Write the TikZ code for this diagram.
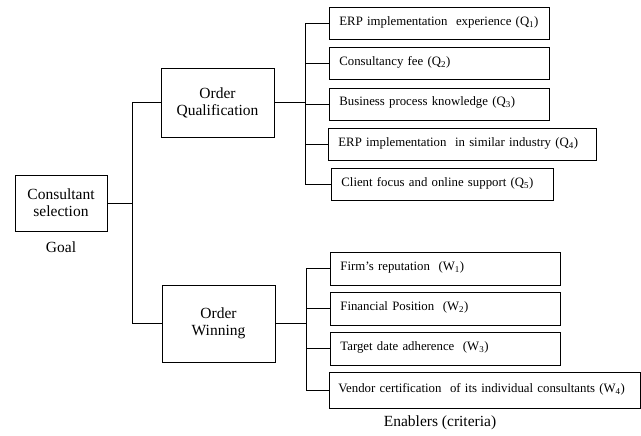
\documentclass[tikz,border=0pt]{standalone}
\usepackage{fontspec}
\setmainfont{Liberation Serif}
\usetikzlibrary{positioning}

\begin{document}
\begin{tikzpicture}[
  x=1bp, y=-1bp,
  line width=0.8bp,
  mainbox/.style={rectangle, draw, align=center, inner sep=0pt, font=\fontsize{15.5bp}{17bp}\selectfont},
  critbox/.style={rectangle, draw, anchor=north west, align=left, inner xsep=10bp, inner ysep=0pt, minimum height=32bp, text depth=5bp, font=\fontsize{12.8bp}{15bp}\selectfont},
  label/.style={inner sep=0pt, font=\fontsize{15.5bp}{17bp}\selectfont}
]
\useasboundingbox (0,0) rectangle (641,436);

% goal and the two order groups
\node[mainbox, minimum width=92bp, minimum height=56bp] (goal) at (61,203) {Consultant\\selection};
\node[label, below=10bp of goal] (goallbl) {Goal};
\node[mainbox, minimum width=113bp, minimum height=69bp] (oq) at (217.5,102.5) {Order\\Qualification};
\node[mainbox, minimum width=113bp, minimum height=77bp] (ow) at (218.5,323.5) {Order\\Winning};

% enablers, order qualification
\node[critbox, text width=200bp] (q1) at (329,7) {ERP implementation\ \ experience (Q\textsubscript{1})};
\node[critbox, text width=200bp, below=7.5bp of q1.south west, anchor=north west] (q2) {Consultancy fee (Q\textsubscript{2})};
\node[critbox, text width=200bp, below=7.5bp of q2.south west, anchor=north west] (q3) {Business process knowledge (Q\textsubscript{3})};
\node[critbox, text width=248bp, below=7.5bp of q3.south west, anchor=north west, xshift=-1bp] (q4) {ERP implementation\ \ in similar industry (Q\textsubscript{4})};
\node[critbox, text width=202bp, below=7.5bp of q4.south west, anchor=north west, xshift=3bp] (q5) {Client focus and online support (Q\textsubscript{5})};

% enablers, order winning
\node[critbox, text width=210bp, minimum height=33bp] (w1) at (330,252) {Firm's reputation\ \ (W\textsubscript{1})};
\node[critbox, text width=210bp, minimum height=33bp, below=6bp of w1.south west, anchor=north west] (w2) {Financial Position\ \ (W\textsubscript{2})};
\node[critbox, text width=210bp, minimum height=33bp, below=6bp of w2.south west, anchor=north west] (w3) {Target date adherence\ \ (W\textsubscript{3})};
\node[critbox, text width=293bp, inner xsep=9bp, minimum height=36bp, below=7bp of w3.south west, anchor=north west, xshift=-1bp] (w4) {\mbox{Vendor certification\ \ of its individual consultants (W\textsubscript{4})}};
\node[label] (enablers) at (440,423) {Enablers (criteria)};

% connectors
\coordinate (gj) at ([xshift=25bp]goal.east);
\draw (goal) -- (gj);
\draw (oq) -| (gj) |- (ow);

\coordinate (qj) at ([xshift=31bp]oq.east);
\draw (oq) -- (qj);
\draw (q1.west -| qj) -- (q5.west -| qj);
\foreach \c in {q1,q2,q3,q4,q5}
  \draw (\c.west -| qj) -- (\c.west);

\coordinate (wj) at ([xshift=31bp]ow.east);
\draw (ow) -- (wj);
\draw (w1.west -| wj) -- (w4.west -| wj);
\foreach \c in {w1,w2,w3,w4}
  \draw (\c.west -| wj) -- (\c.west);
\end{tikzpicture}
\end{document}
